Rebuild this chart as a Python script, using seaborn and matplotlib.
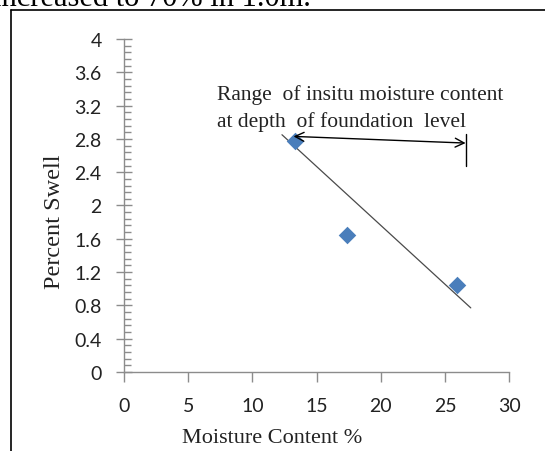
import matplotlib
matplotlib.use("Agg")
import matplotlib.pyplot as plt
import seaborn as sns
import pandas as pd
from matplotlib.lines import Line2D
from matplotlib.ticker import MultipleLocator

# ---- data ----
moisture = [13.3, 17.4, 25.9]
swell = [2.77, 1.64, 1.05]
trend_x = [12.3, 27.0]
trend_y = [2.85, 0.77]
range_x = [13.2, 26.6]
range_y = [2.83, 2.75]
bar_y = [2.86, 2.47]
x_ticks = [0, 5, 10, 15, 20, 25, 30]
y_ticks = [0, 0.4, 0.8, 1.2, 1.6, 2, 2.4, 2.8, 3.2, 3.6, 4]
y_tick_labels = ["0", "0.4", "0.8", "1.2", "1.6", "2", "2.4", "2.8", "3.2", "3.6", "4"]
annotation = "Range  of insitu moisture content\nat depth  of foundation  level"
top_text = "increased to 70% in 1.0m."

sns.set_theme(style="white")
plt.rcParams['font.family'] = ['Lato', 'DejaVu Sans']

fig = plt.figure(figsize=(5.45, 4.52), dpi=100)
ax = fig.add_axes([0.2275, 0.1748, 0.7070, 0.7367])

df = pd.DataFrame({"Moisture": moisture, "Swell": swell})
sns.scatterplot(data=df, x="Moisture", y="Swell", marker="D", s=80,
                color="#4a7ebb", edgecolor="#4a7ebb", linewidth=0, ax=ax, zorder=3)
sns.lineplot(x=trend_x, y=trend_y, color="#4a4a4a", linewidth=0.9, ax=ax, zorder=2)

ax.annotate("", xy=(range_x[0], range_y[0]), xytext=(range_x[1], range_y[1]),
            arrowprops=dict(arrowstyle="<->", color="black", lw=1.0,
                            shrinkA=0, shrinkB=0, mutation_scale=16))
ax.plot([range_x[1], range_x[1]], bar_y, color="black", lw=1.0)

ax.text(7.25, 3.18, annotation, family="Liberation Serif", fontsize=15.5,
        color="#222222", va="center", ha="left", linespacing=1.45)

ax.set_xlim(0, 30)
ax.set_ylim(0, 4)
ax.set_xticks(x_ticks)
ax.set_yticks(y_ticks)
ax.set_yticklabels(y_tick_labels)
ax.yaxis.set_minor_locator(MultipleLocator(0.08))

for s in ["top", "right"]:
    ax.spines[s].set_visible(False)
for s in ["left", "bottom"]:
    ax.spines[s].set_color("#8c8c8c")
    ax.spines[s].set_linewidth(1.0)

ax.tick_params(axis="y", which="major", direction="inout", length=12, width=1.0,
               color="#8c8c8c", labelsize=14, labelcolor="#222222", pad=10, left=True)
ax.tick_params(axis="y", which="minor", direction="in", length=5, width=1.0,
               color="#8c8c8c", left=True)
ax.tick_params(axis="x", which="major", direction="out", length=7, width=1.0,
               color="#8c8c8c", labelsize=14, labelcolor="#222222", pad=11, bottom=True)

ax.set_xlabel("Moisture Content %", family="Liberation Serif", fontsize=16,
              color="#222222", labelpad=10, x=0.384)
ax.set_ylabel("Percent Swell", family="Liberation Serif", fontsize=17.5,
              color="#222222", labelpad=7, y=0.455)

# page border and clipped document text
fig.add_artist(Line2D([11 / 545, 11 / 545], [0, 1 - 11 / 452], color="black", lw=1.2,
                      transform=fig.transFigure))
fig.add_artist(Line2D([11 / 545, 1], [1 - 11 / 452, 1 - 11 / 452], color="black", lw=1.2,
                      transform=fig.transFigure))
fig.text(-0.012, 1 - 6 / 452, top_text, family="Liberation Serif", fontsize=22,
         va="baseline", ha="left", color="black")

fig.savefig("out.png", dpi=100)
